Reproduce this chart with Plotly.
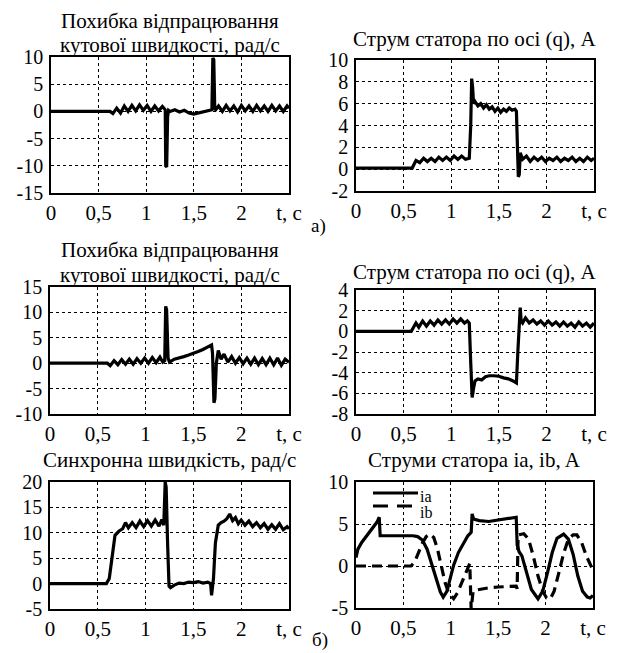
import plotly.graph_objects as go

# ---------------- data ----------------
# a) speed error, rad/s
t_err_a = [0, 0.62, 0.65, 0.69, 0.73, 0.77, 0.81, 0.85, 0.89, 0.93, 0.97, 1.01, 1.05, 1.09, 1.13, 1.17,
           1.20, 1.205, 1.215, 1.225, 1.235, 1.25, 1.30, 1.35, 1.40, 1.45, 1.50, 1.55, 1.60, 1.65, 1.69,
           1.70, 1.71, 1.72, 1.73, 1.76, 1.80, 1.84, 1.88, 1.92, 1.96, 2.00, 2.04, 2.08, 2.12, 2.16,
           2.20, 2.24, 2.28, 2.32, 2.36, 2.40, 2.44, 2.48, 2.50]
v_err_a = [0, 0, -0.4, 0.6, -0.3, 1.0, 0.0, 1.1, 0.1, 1.2, 0.2, 1.1, 0.0, 1.0, 0.1, 0.9,
           0.3, -10.0, -10.2, -1.0, 0.2, 0.0, 0.3, -0.1, 0.2, -0.3, -0.5, -0.3, -0.2, 0.1, 0.3,
           9.8, 9.5, 0.5, 0.3, 1.0, 0.0, 1.1, 0.1, 1.0, -0.1, 1.1, 0.1, 1.0, 0.0, 1.1,
           0.1, 1.0, 0.0, 1.1, 0.1, 1.0, 0.0, 1.0, 0.6]

# a) stator current q-axis, A
t_iq_a = [0, 0.59, 0.63, 0.67, 0.71, 0.75, 0.79, 0.83, 0.87, 0.91, 0.95, 0.99, 1.03, 1.07, 1.11, 1.15, 1.19,
          1.205, 1.215, 1.225, 1.235, 1.25, 1.28, 1.31, 1.34, 1.37, 1.40, 1.43, 1.46, 1.49, 1.52, 1.55,
          1.58, 1.61, 1.64, 1.67, 1.685, 1.695, 1.705, 1.715, 1.725, 1.75, 1.79, 1.83, 1.87, 1.91, 1.95,
          1.99, 2.03, 2.07, 2.11, 2.15, 2.19, 2.23, 2.27, 2.31, 2.35, 2.39, 2.43, 2.47, 2.50]
v_iq_a = [0.1, 0.1, 0.8, 0.6, 1.0, 0.7, 1.0, 0.7, 1.1, 0.8, 1.1, 0.8, 1.2, 0.9, 1.2, 0.9, 1.0,
          4.0, 8.3, 7.5, 6.0, 6.2, 5.8, 6.0, 5.6, 5.9, 5.5, 5.7, 5.3, 5.6, 5.2, 5.5,
          5.3, 5.6, 5.4, 5.5, 5.3, 2.0, -0.7, -0.5, 1.5, 0.9, 1.2, 0.7, 1.1, 0.8, 1.1,
          0.7, 1.0, 0.8, 1.1, 0.7, 1.0, 0.8, 1.1, 0.7, 1.0, 0.7, 1.1, 0.8, 1.0]

# b) speed error, rad/s
t_err_b = [0, 0.60, 0.63, 0.67, 0.71, 0.75, 0.79, 0.83, 0.87, 0.91, 0.95, 0.99, 1.03, 1.07, 1.11, 1.15,
           1.18, 1.20, 1.21, 1.22, 1.235, 1.25, 1.30, 1.35, 1.40, 1.45, 1.50, 1.55, 1.60, 1.65, 1.69,
           1.70, 1.715, 1.725, 1.74, 1.76, 1.79, 1.82, 1.86, 1.90, 1.94, 1.98, 2.02, 2.06, 2.10, 2.14,
           2.18, 2.22, 2.26, 2.30, 2.34, 2.38, 2.42, 2.46, 2.50]
v_err_b = [0, 0, -0.5, 0.5, -0.3, 0.7, -0.2, 0.8, -0.2, 0.9, 0.0, 1.0, 0.0, 1.1, 0.1, 1.2,
           0.2, 0.5, 11.2, 10.5, 1.0, 0.2, 0.8, 1.0, 1.3, 1.6, 1.9, 2.3, 2.7, 3.2, 3.6,
           2.0, -7.8, -7.0, 0.0, 2.5, 0.8, 1.8, 0.2, 1.3, 0.0, 1.1, -0.1, 1.0, -0.2, 1.0,
           -0.3, 0.9, -0.3, 1.0, -0.3, 1.0, -0.4, 0.8, 0.2]

# b) stator current q-axis, A
t_iq_b = [0, 0.58, 0.63, 0.66, 0.70, 0.74, 0.78, 0.82, 0.86, 0.90, 0.94, 0.98, 1.02, 1.06, 1.10, 1.14,
          1.17, 1.19, 1.205, 1.22, 1.235, 1.25, 1.28, 1.32, 1.36, 1.40, 1.45, 1.50, 1.55, 1.60, 1.65,
          1.685, 1.70, 1.715, 1.725, 1.735, 1.75, 1.78, 1.82, 1.86, 1.90, 1.94, 1.98, 2.02, 2.06, 2.10,
          2.14, 2.18, 2.22, 2.26, 2.30, 2.34, 2.38, 2.42, 2.46, 2.50]
v_iq_b = [0, 0, 0.8, 0.4, 1.0, 0.5, 1.0, 0.6, 1.1, 0.7, 1.1, 0.7, 1.2, 0.8, 1.2, 0.8,
          1.0, 0.8, -3.0, -6.4, -5.5, -4.8, -4.6, -4.7, -4.4, -4.3, -4.3, -4.35, -4.5, -4.6, -4.8,
          -5.0, -2.0, 1.5, 2.3, 1.0, 0.8, 1.3, 0.8, 1.1, 0.7, 1.0, 0.6, 1.0, 0.6, 0.9,
          0.5, 0.9, 0.5, 0.8, 0.4, 0.9, 0.5, 0.8, 0.4, 0.8]

# b) synchronous speed, rad/s
t_ws_b = [0, 0.59, 0.62, 0.65, 0.68, 0.72, 0.76, 0.79, 0.82, 0.86, 0.90, 0.94, 0.98, 1.02, 1.06, 1.10,
          1.14, 1.17, 1.19, 1.205, 1.215, 1.23, 1.245, 1.26, 1.30, 1.35, 1.40, 1.45, 1.50, 1.55, 1.60,
          1.65, 1.68, 1.69, 1.71, 1.73, 1.76, 1.79, 1.82, 1.85, 1.88, 1.91, 1.94, 1.97, 2.00, 2.04,
          2.08, 2.12, 2.16, 2.20, 2.24, 2.28, 2.32, 2.36, 2.40, 2.44, 2.48, 2.50]
v_ws_b = [0, 0, 1.0, 5.0, 9.5, 10.3, 10.8, 12.0, 11.0, 12.0, 11.0, 12.3, 11.2, 12.4, 11.3, 12.5,
          11.3, 12.6, 11.5, 20.0, 19.0, 8.0, -0.5, -0.8, -0.3, 0.1, 0.0, 0.3, 0.2, 0.4, 0.1,
          0.3, 0.0, -2.3, 1.0, 8.0, 11.5, 12.0, 12.3, 12.8, 13.7, 12.4, 13.0, 11.8, 12.5, 11.5,
          12.3, 11.2, 12.0, 11.0, 11.8, 10.7, 11.6, 10.7, 11.8, 10.6, 11.2, 10.8]

# b) stator phase currents ia, ib, A
t_ia = [0, 0.02, 0.06, 0.10, 0.14, 0.18, 0.22, 0.245, 0.255, 0.30, 0.40, 0.50, 0.60, 0.65, 0.70,
        0.75, 0.80, 0.85, 0.89, 0.92, 0.96, 1.00, 1.03, 1.08, 1.13, 1.18, 1.215, 1.225, 1.24, 1.30,
        1.40, 1.50, 1.60, 1.69, 1.70, 1.72, 1.75, 1.80, 1.85, 1.92, 1.97, 2.02, 2.07, 2.12, 2.19,
        2.24, 2.29, 2.34, 2.39, 2.44, 2.47, 2.50]
v_ia = [1.0, 2.0, 2.8, 3.4, 4.0, 4.6, 5.2, 5.8, 3.6, 3.6, 3.6, 3.6, 3.6, 3.5, 3.1,
        2.0, 0.2, -1.8, -3.1, -3.7, -3.0, -1.2, 0.1, 1.6, 2.65, 3.6, 4.0, 6.2, 5.6, 5.4,
        5.3, 5.5, 5.7, 5.8, 2.5, 1.7, 1.2, -0.8, -2.8, -3.9, -3.0, -0.8, 1.6, 3.3, 3.8,
        3.2, 1.4, -1.2, -3.0, -3.7, -3.8, -3.5]
t_ib = [0, 0.58, 0.62, 0.66, 0.70, 0.74, 0.78, 0.82, 0.86, 0.90, 0.94, 0.98, 1.03, 1.07, 1.12,
        1.17, 1.20, 1.215, 1.225, 1.235, 1.25, 1.30, 1.40, 1.50, 1.60, 1.69, 1.70, 1.71, 1.77,
        1.82, 1.87, 1.92, 1.97, 2.01, 2.05, 2.09, 2.14, 2.19, 2.24, 2.29, 2.33, 2.38, 2.43, 2.50]
v_ib = [0, 0, 0.5, 1.6, 2.7, 3.5, 3.8, 3.4, 2.0, 0.0, -2.0, -3.3, -3.9, -3.2, -1.8,
        -0.6, 0.3, -5.2, -3.6, -3.0, -2.9, -2.8, -2.6, -2.5, -2.4, -2.4, -2.7, 3.7, 3.85,
        3.2, 1.2, -1.2, -3.0, -3.8, -3.9, -3.0, -0.8, 1.5, 3.2, 3.7, 3.7, 2.8, 1.2, -0.5]

x_tickvals = [0, 0.5, 1, 1.5, 2, 2.5]
x_ticktext = ["0", "0,5", "1", "1,5", "2", "t, c"]

# title lines of each panel
titles = [["Похибка відпрацювання", "кутової швидкості, рад/с"],
          ["Струм статора по осі (q), A"],
          ["Похибка відпрацювання", "кутової швидкості, рад/с"],
          ["Струм статора по осі (q), A"],
          ["Синхронна швидкість, рад/с"],
          ["Струми статора ia, ib, A"]]

y_ranges = [(-15, 10, 5), (-2, 10, 2), (-10, 15, 5), (-8, 4, 2), (-5, 20, 5), (-5, 10, 5)]

# ---------------- layout geometry (window pixels) ----------------
# the page body keeps an 8 px default margin, so the figure is 8 px smaller
# and every window coordinate is shifted by OFF
OFF = 8
WIN_W, WIN_H = 622, 653
W, H = WIN_W - OFF, WIN_H - OFF
boxes = [(51, 289, 57, 193), (356, 594, 60, 191),
         (50, 289, 287, 414), (356, 594, 290, 414),
         (50, 289, 482, 609), (356, 593, 482, 608)]
title_y = [[21, 45], [39], [250, 275], [272], [460], [460]]


def px(x):
    return (x - OFF) / W


def py(y):
    return 1 - (y - OFF) / H


FONT = "Liberation Serif"
fig = go.Figure()

series = [[(t_err_a, v_err_a, "solid", None)],
          [(t_iq_a, v_iq_a, "solid", None)],
          [(t_err_b, v_err_b, "solid", None)],
          [(t_iq_b, v_iq_b, "solid", None)],
          [(t_ws_b, v_ws_b, "solid", None)],
          [(t_ia, v_ia, "solid", "ia"), (t_ib, v_ib, "10px,6px", "ib")]]

layout = dict(width=W, height=H, margin=dict(l=0, r=0, t=0, b=0, autoexpand=False),
              paper_bgcolor="white", plot_bgcolor="white", showlegend=False,
              font=dict(family=FONT, size=21, color="black"))

annotations = []
shapes = []
for i, (box, yr, ser) in enumerate(zip(boxes, y_ranges, series)):
    n = i + 1
    xa = "x" if n == 1 else f"x{n}"
    ya = "y" if n == 1 else f"y{n}"
    x0, x1, y0, y1 = box
    for (tt, vv, dash, name) in ser:
        fig.add_trace(go.Scatter(x=tt, y=vv, mode="lines", name=name or "",
                                 line=dict(color="black", width=3.2, dash=dash),
                                 xaxis=xa, yaxis=ya, cliponaxis=True))
    axis_common = dict(showline=True, mirror=True, linecolor="black", linewidth=1.5,
                       showgrid=True, gridcolor="black", gridwidth=1, griddash="3px,3px",
                       zeroline=False, ticks="", automargin=False)
    layout["xaxis" if n == 1 else f"xaxis{n}"] = dict(
        domain=[px(x0), px(x1)], range=[0, 2.5], anchor=ya,
        tickvals=x_tickvals, ticktext=x_ticktext,
        tickfont=dict(family=FONT, size=21, color="black"), **axis_common)
    lo, hi, step = yr
    yt = list(range(lo, hi + 1, step))
    layout["yaxis" if n == 1 else f"yaxis{n}"] = dict(
        domain=[py(y1), py(y0)], range=[lo, hi], anchor=xa,
        tickvals=yt, ticktext=[str(v) for v in yt], ticklabelstandoff=2,
        tickfont=dict(family=FONT, size=20, color="black"), **axis_common)
    for line_text, ty in zip(titles[i], title_y[i]):
        annotations.append(dict(text=line_text, x=px((x0 + x1) / 2), y=py(ty),
                                xref="paper", yref="paper", xanchor="center", yanchor="middle",
                                showarrow=False, font=dict(family=FONT, size=21, color="black")))

# legend drawn inside the last panel
x6a, x6b = boxes[5][0], boxes[5][1]
lx0 = (373 - x6a) / (x6b - x6a)
lx1 = (418 - x6a) / (x6b - x6a)
shapes.append(dict(type="line", xref="x6 domain", yref="paper", x0=lx0, x1=lx1,
                   y0=py(493), y1=py(493), line=dict(color="black", width=3)))
shapes.append(dict(type="line", xref="x6 domain", yref="paper", x0=lx0, x1=lx1,
                   y0=py(506), y1=py(506), line=dict(color="black", width=3, dash="15px,9px")))
annotations.append(dict(text="ia", x=lx1, y=py(496), xref="x6 domain", yref="paper",
                        xanchor="left", yanchor="middle", showarrow=False,
                        font=dict(family=FONT, size=16, color="black")))
annotations.append(dict(text="ib", x=lx1, y=py(513), xref="x6 domain", yref="paper",
                        xanchor="left", yanchor="middle", showarrow=False,
                        font=dict(family=FONT, size=16, color="black")))

annotations.append(dict(text="а)", x=px(318), y=py(226), xref="paper", yref="paper",
                        xanchor="center", yanchor="middle", showarrow=False,
                        font=dict(family=FONT, size=19, color="black")))
annotations.append(dict(text="б)", x=px(320), y=py(640), xref="paper", yref="paper",
                        xanchor="center", yanchor="middle", showarrow=False,
                        font=dict(family=FONT, size=19, color="black")))

layout["annotations"] = annotations
layout["shapes"] = shapes
fig.update_layout(**layout)
fig.write_html("out.html")
